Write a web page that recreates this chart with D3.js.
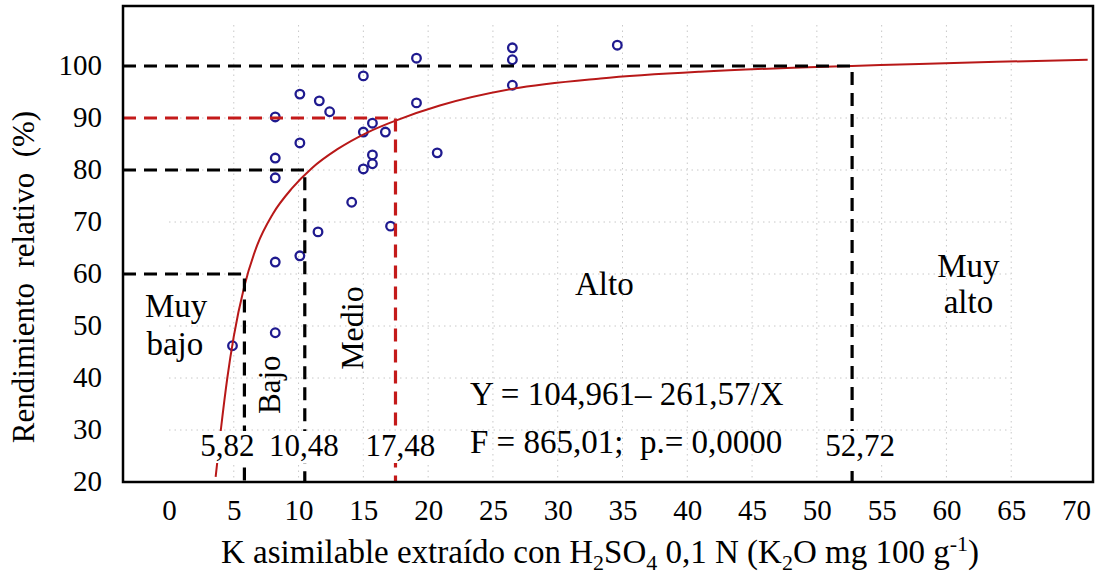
<!DOCTYPE html>
<html>
<head>
<meta charset="utf-8">
<script src="https://cdn.jsdelivr.net/npm/d3@7"></script>
</head>
<body style="margin:0">
<svg id="chart" width="1097" height="578">
</svg>
<script>
// ---------- data ----------
const xTicks = [0, 5, 10, 15, 20, 25, 30, 35, 40, 45, 50, 55, 60, 65, 70];
const yTicks = [20, 30, 40, 50, 60, 70, 80, 90, 100];

// observed points (K, relative yield)
const pointsX = [8.2, 8.2, 8.2, 8.2, 8.2, 10.1, 10.1, 10.1, 11.6, 12.4, 11.5, 15.0, 15.0, 15.7, 16.7, 15.7, 15.7, 15.0, 14.1, 17.1, 19.1, 19.1, 20.7, 26.5, 26.5, 26.5, 34.6, 4.9];
const pointsY = [90.2, 82.3, 78.5, 62.3, 48.7, 94.6, 85.2, 63.5, 93.3, 91.2, 68.1, 98.1, 87.3, 89.0, 87.3, 82.9, 81.2, 80.2, 73.8, 69.2, 101.5, 92.9, 83.3, 103.5, 101.2, 96.3, 104.0, 46.2];

// fitted curve
const curveX = [3.6, 4.0, 4.5, 5.0, 5.8, 6.8, 8.0, 9.5, 11.0, 13.0, 15.3, 17.6, 20.9, 26.5, 33.3, 41.0, 48.7, 52.7, 57.9, 63.9, 70.9];
const curveY = [21.0, 30.0, 40.0, 48.0, 57.5, 65.5, 71.5, 76.5, 80.3, 84.0, 87.2, 89.6, 92.4, 95.6, 97.6, 98.9, 99.7, 100.0, 100.4, 100.8, 101.2];

// critical levels
const critX = [5.82, 10.48, 17.48, 52.72];
const critY = [60, 80, 90, 100];
const critLabels = ["5,82", "10,48", "17,48", "52,72"];

const zoneLabels = [["Muy", "bajo"], ["Bajo"], ["Medio"], ["Alto"], ["Muy", "alto"]];
const equationText = "Y = 104,961\u2013 261,57/X";
const statsText = "F = 865,01;  p.= 0,0000";

// ---------- layout ----------
const FONT = "Liberation Serif";
const svg = d3.select("#chart");
const frame = {left: 123, top: 6, right: 1093, bottom: 482};
const x = d3.scaleLinear().domain([0, 70]).range([169, 1076]);
const y = d3.scaleLinear().domain([20, 100]).range([482, 66]);

function txt(parent, s, px, py, size, anchor) {
  return parent.append("text").attr("x", px).attr("y", py)
    .attr("font-size", size).attr("font-family", FONT)
    .attr("text-anchor", anchor || "start").text(s);
}

// y title
svg.append("text").attr("transform", "translate(34,277) rotate(-90)")
  .attr("text-anchor", "middle").attr("font-size", 31).attr("font-family", FONT)
  .style("white-space", "pre").text("Rendimiento  relativo  (%)");

// gridlines
const grid = svg.append("g").attr("stroke", "#c8c8c8").attr("stroke-width", 1).attr("stroke-dasharray", "1.5,4");
grid.selectAll("line.v").data(xTicks.filter(d => d > 0 && d < 70)).join("line")
  .attr("x1", d => x(d)).attr("x2", d => x(d)).attr("y1", 25).attr("y2", frame.bottom);
grid.selectAll("line.h").data(yTicks.filter(d => d > 20 && d < 100)).join("line")
  .attr("x1", x(0)).attr("x2", x(65)).attr("y1", d => y(d)).attr("y2", d => y(d));

// points
svg.append("g").selectAll("circle").data(pointsX.map((d, i) => [d, pointsY[i]])).join("circle")
  .attr("cx", d => x(d[0])).attr("cy", d => y(d[1])).attr("r", 4.3)
  .attr("fill", "none").attr("stroke", "#1f1a8f").attr("stroke-width", 2.3);

// curve
const line = d3.line().x(d => x(d[0])).y(d => y(d[1])).curve(d3.curveMonotoneX);
svg.append("path").datum(curveX.map((d, i) => [d, curveY[i]]))
  .attr("d", line).attr("fill", "none").attr("stroke", "#b81818").attr("stroke-width", 2);

// critical dashed lines
const dashColors = ["#000", "#000", "#c41a1a", "#000"];
const dg = svg.append("g").attr("stroke-width", 3.2).attr("stroke-dasharray", "13,8").attr("fill", "none");
critX.forEach((cx, i) => {
  dg.append("path")
    .attr("d", `M${frame.left},${y(critY[i])}H${x(cx)}V${frame.bottom}`)
    .attr("stroke", dashColors[i]);
});

// critical labels with white background (width estimated from glyph count)
const LAB = 31;
const offsets = [-17, -1, 5, 8];
critX.forEach((cx, i) => {
  const s = critLabels[i];
  const w = (s.replace(/[^0-9]/g, "").length * 0.5 + s.replace(/[0-9]/g, "").length * 0.25) * LAB;
  const cxp = x(cx) + offsets[i];
  svg.append("rect").attr("x", cxp - w / 2 - 2).attr("y", 431).attr("width", w + 4).attr("height", 32).attr("fill", "#fff");
  txt(svg, s, cxp, 456, LAB, "middle");
});

// equation
txt(svg, equationText, 470, 405, 33).style("white-space", "pre");
txt(svg, statsText, 470, 453, 33).style("white-space", "pre");

// frame
svg.append("rect").attr("x", frame.left).attr("y", frame.top)
  .attr("width", frame.right - frame.left).attr("height", frame.bottom - frame.top)
  .attr("fill", "none").attr("stroke", "#000").attr("stroke-width", 2.5);

// axes
const xAxis = svg.append("g").attr("transform", `translate(0,${frame.bottom})`)
  .call(d3.axisBottom(x).tickValues(xTicks).tickSize(0).tickPadding(17));
xAxis.attr("font-family", FONT).attr("font-size", 29);
xAxis.select(".domain").remove();
xAxis.selectAll("text").attr("fill", "#000").attr("font-family", FONT).attr("font-size", 29);

const yAxis = svg.append("g").attr("transform", `translate(${frame.left},0)`)
  .call(d3.axisLeft(y).tickValues(yTicks).tickSize(0).tickPadding(21));
yAxis.attr("font-family", FONT).attr("font-size", 29);
yAxis.select(".domain").remove();
yAxis.selectAll("text").attr("fill", "#000").attr("font-family", FONT).attr("font-size", 29).attr("dy", "0.28em");

// x axis title
const xt = svg.append("text").attr("x", 600).attr("y", 563).attr("text-anchor", "middle")
  .attr("font-size", 33).attr("font-family", FONT);
xt.append("tspan").text("K asimilable extraído con H");
xt.append("tspan").text("2").attr("font-size", 22).attr("dy", 7);
xt.append("tspan").text("SO").attr("dy", -7);
xt.append("tspan").text("4").attr("font-size", 22).attr("dy", 7);
xt.append("tspan").text(" 0,1 N (K").attr("dy", -7);
xt.append("tspan").text("2").attr("font-size", 22).attr("dy", 7);
xt.append("tspan").text("O mg 100 g").attr("dy", -7);
xt.append("tspan").text("-1").attr("font-size", 22).attr("dy", -12);
xt.append("tspan").text(")").attr("dy", 12);

// zone labels
txt(svg, zoneLabels[0][0], x(0.55), y(51.7), 33, "middle");
txt(svg, zoneLabels[0][1], x(0.45), y(44.4), 33, "middle");
svg.append("text").attr("font-size", 31).attr("font-family", FONT).attr("text-anchor", "middle")
  .attr("transform", `translate(${x(8.56)},${y(38.7)}) rotate(-90)`).text(zoneLabels[1][0]);
svg.append("text").attr("font-size", 32).attr("font-family", FONT).attr("text-anchor", "middle")
  .attr("transform", `translate(${x(14.97)},${y(49.6)}) rotate(-90)`).text(zoneLabels[2][0]);
txt(svg, zoneLabels[3][0], x(33.6), y(56), 33, "middle");
txt(svg, zoneLabels[4][0], x(61.7), y(59.4), 33, "middle");
txt(svg, zoneLabels[4][1], x(61.7), y(52.5), 33, "middle");
</script>
</body>
</html>
